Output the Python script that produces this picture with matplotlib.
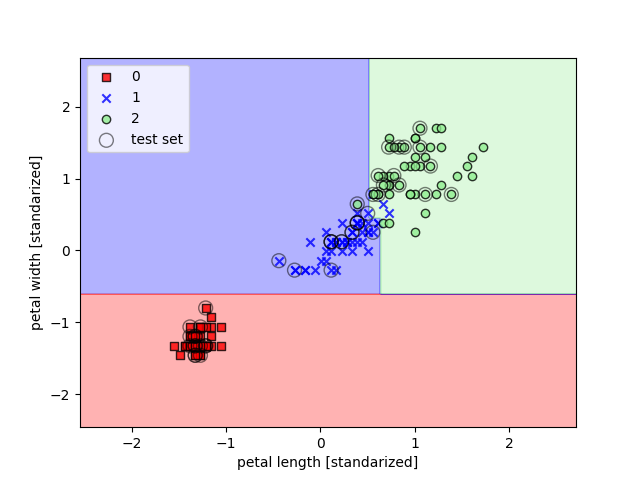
import numpy as np
import matplotlib
matplotlib.use("Agg")
import matplotlib.pyplot as plt
from matplotlib.colors import ListedColormap

# Iris petal measurements (cm), classes 0 / 1 / 2
petal_length_0 = [1.4, 1.4, 1.3, 1.5, 1.4, 1.7, 1.4, 1.5, 1.4, 1.5, 1.5, 1.6, 1.4, 1.1, 1.2, 1.5, 1.3,
                  1.4, 1.7, 1.5, 1.7, 1.5, 1.0, 1.7, 1.9, 1.6, 1.6, 1.5, 1.4, 1.6, 1.6, 1.5, 1.5, 1.4,
                  1.5, 1.2, 1.3, 1.4, 1.3, 1.5, 1.3, 1.3, 1.3, 1.6, 1.9, 1.4, 1.6, 1.4, 1.5, 1.4]
petal_width_0 = [0.2, 0.2, 0.2, 0.2, 0.2, 0.4, 0.3, 0.2, 0.2, 0.1, 0.2, 0.2, 0.1, 0.1, 0.2, 0.4, 0.4,
                 0.3, 0.3, 0.3, 0.2, 0.4, 0.2, 0.5, 0.2, 0.2, 0.4, 0.2, 0.2, 0.2, 0.2, 0.4, 0.1, 0.2,
                 0.2, 0.2, 0.2, 0.1, 0.2, 0.2, 0.3, 0.3, 0.2, 0.6, 0.4, 0.3, 0.2, 0.2, 0.2, 0.2]
petal_length_1 = [4.7, 4.5, 4.9, 4.0, 4.6, 4.5, 4.7, 3.3, 4.6, 3.9, 3.5, 4.2, 4.0, 4.7, 3.6, 4.4, 4.5,
                  4.1, 4.5, 3.9, 4.8, 4.0, 4.9, 4.7, 4.3, 4.4, 4.8, 5.0, 4.5, 3.5, 3.8, 3.7, 3.9, 5.1,
                  4.5, 4.5, 4.7, 4.4, 4.1, 4.0, 4.4, 4.6, 4.0, 3.3, 4.2, 4.2, 4.2, 4.3, 3.0, 4.1]
petal_width_1 = [1.4, 1.5, 1.5, 1.3, 1.5, 1.3, 1.6, 1.0, 1.3, 1.4, 1.0, 1.5, 1.0, 1.4, 1.3, 1.4, 1.5,
                 1.0, 1.5, 1.1, 1.8, 1.3, 1.5, 1.2, 1.3, 1.4, 1.4, 1.7, 1.5, 1.0, 1.1, 1.0, 1.2, 1.6,
                 1.5, 1.6, 1.5, 1.3, 1.3, 1.3, 1.2, 1.4, 1.2, 1.0, 1.3, 1.2, 1.3, 1.3, 1.1, 1.3]
petal_length_2 = [6.0, 5.1, 5.9, 5.6, 5.8, 6.6, 4.5, 6.3, 5.8, 6.1, 5.1, 5.3, 5.5, 5.0, 5.1, 5.3, 5.5,
                  6.7, 6.9, 5.0, 5.7, 4.9, 6.7, 4.9, 5.7, 6.0, 4.8, 4.9, 5.6, 5.8, 6.1, 6.4, 5.6, 5.1,
                  5.6, 6.1, 5.6, 5.5, 4.8, 5.4, 5.6, 5.1, 5.1, 5.9, 5.7, 5.2, 5.0, 5.2, 5.4, 5.1]
petal_width_2 = [2.5, 1.9, 2.1, 1.8, 2.2, 2.1, 1.7, 1.8, 1.8, 2.5, 2.0, 1.9, 2.1, 2.0, 2.4, 2.3, 1.8,
                 2.2, 2.3, 1.5, 2.3, 2.0, 2.0, 1.8, 2.1, 1.8, 1.8, 1.8, 2.1, 1.6, 1.9, 2.0, 2.2, 1.5,
                 1.4, 2.3, 2.4, 1.8, 1.8, 2.1, 2.4, 2.3, 1.9, 2.3, 2.5, 2.3, 1.9, 2.0, 2.3, 1.8]

# 0-based indices (within each class) of test-set samples
test_idx_0 = [16, 15, 43, 12, 9, 0, 2, 3, 6, 11, 25, 28, 40, 45, 37]
test_idx_1 = [48, 7, 12, 3, 21, 44, 46, 15, 25, 1, 16, 6, 26, 18, 39]
test_idx_2 = [44, 41, 48, 20, 21, 47, 11, 2, 8, 7, 46, 6, 26, 23, 15]

# standardization parameters (training-set mean / std)
mean_length, std_length = 3.797, 1.804
mean_width, std_width = 1.208, 0.760

# decision-tree split thresholds (cm)
split_width_root = 0.75
split_width_step = 1.55
split_length_low = 4.95
split_length_high = 4.75

class_labels = ['0', '1', '2']
markers = ['s', 'x', 'o']
colors = ['red', 'blue', 'lightgreen']

lengths = [petal_length_0, petal_length_1, petal_length_2]
widths = [petal_width_0, petal_width_1, petal_width_2]
tests = [test_idx_0, test_idx_1, test_idx_2]

Xs = []
for L, W in zip(lengths, widths):
    Xs.append(np.column_stack([(np.array(L) - mean_length) / std_length,
                               (np.array(W) - mean_width) / std_width]))
X_all = np.vstack(Xs)

def std_l(v):
    return (v - mean_length) / std_length

def std_w(v):
    return (v - mean_width) / std_width

def predict(a, b):
    z = np.full(a.shape, 2)
    z[b <= std_w(split_width_root)] = 0
    upper = b > std_w(split_width_root)
    low_part = upper & (b <= std_w(split_width_step)) & (a <= std_l(split_length_low))
    high_part = upper & (b > std_w(split_width_step)) & (a <= std_l(split_length_high))
    z[low_part | high_part] = 1
    return z

fig = plt.figure(figsize=(6.4, 4.8), dpi=100)
resolution = 0.02
x1_min, x1_max = X_all[:, 0].min() - 1, X_all[:, 0].max() + 1
x2_min, x2_max = X_all[:, 1].min() - 1, X_all[:, 1].max() + 1
xx1, xx2 = np.meshgrid(np.arange(x1_min, x1_max, resolution),
                       np.arange(x2_min, x2_max, resolution))
Z = predict(xx1, xx2)
cmap = ListedColormap(colors)
plt.contourf(xx1, xx2, Z, alpha=0.3, cmap=cmap)
plt.xlim(xx1.min(), xx1.max())
plt.ylim(xx2.min(), xx2.max())

for i, X in enumerate(Xs):
    if markers[i] == 'x':
        plt.scatter(X[:, 0], X[:, 1], alpha=0.8, c=colors[i], marker=markers[i],
                    label=class_labels[i])
    else:
        plt.scatter(X[:, 0], X[:, 1], alpha=0.8, c=colors[i], marker=markers[i],
                    label=class_labels[i], edgecolor='black')

X_test = np.vstack([Xs[i][tests[i]] for i in range(3)])
plt.scatter(X_test[:, 0], X_test[:, 1], facecolors='none', edgecolor='black',
            alpha=0.5, linewidth=1, marker='o', s=100, label='test set')

plt.xlabel('petal length [standarized]')
plt.ylabel('petal width [standarized]')
plt.legend(loc='upper left')
plt.savefig('out.png', dpi=100)
